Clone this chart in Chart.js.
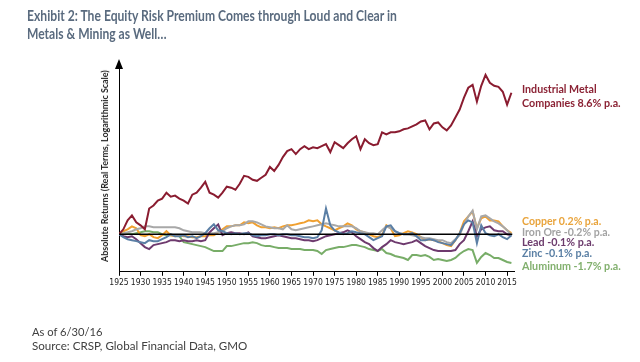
<!DOCTYPE html>
<html>
<head>
<meta charset="utf-8">
<script src="https://cdn.jsdelivr.net/npm/chart.js@4.4.1/dist/chart.umd.min.js"></script>
<style>
  body { margin: 0; background: #fff; width: 640px; height: 362px; overflow: hidden; position: relative;
         font-family: Lato, "Open Sans", sans-serif; }
  canvas { position: absolute; left: 0; top: 0; }
  .txt { position: absolute; white-space: nowrap; display: inline-block; }
  .title { left: 27px; color: #5a6b7f; font-weight: bold; font-size: 14.5px; line-height: 17px; transform-origin: left center; }
  .ylab { left: 105px; top: 166px; font-weight: bold; font-size: 8.5px; color: #222;
          transform-origin: center center; }
  .lbl { left: 522px; font-weight: bold; font-size: 11.5px; line-height: 12px; transform-origin: left center; }
  .note { left: 32px; font-size: 11px; line-height: 13px; color: #404040; transform-origin: left center; }
</style>
</head>
<body>
<canvas id="grafico" width="640" height="362"></canvas>

<div class="txt title" id="t1" style="top:7px">Exhibit 2: The Equity Risk Premium Comes through Loud and Clear in</div>
<div class="txt title" id="t2" style="top:25px">Metals &amp; Mining as Well…</div>
<div class="txt ylab" id="ylab">Absolute Returns (Real Terms, Logarithmic Scale)</div>

<div class="txt lbl" id="l1" style="top:89px;color:#8b2234">Industrial Metal</div>
<div class="txt lbl" id="l2" style="top:103px;color:#8b2234">Companies 8.6% p.a.</div>
<div class="txt lbl" style="top:221px;color:#e9a43c">Copper 0.2% p.a.</div>
<div class="txt lbl" style="top:232px;color:#a3a3a3">Iron Ore -0.2% p.a.</div>
<div class="txt lbl" style="top:242px;color:#6c3b6c">Lead -0.1% p.a.</div>
<div class="txt lbl" style="top:253px;color:#5a7fa4">Zinc -0.1% p.a.</div>
<div class="txt lbl" style="top:266px;color:#82b06e">Aluminum -1.7% p.a.</div>

<div class="txt note" style="top:331px">As of 6/30/16</div>
<div class="txt note" id="src" style="top:345px">Source: CRSP, Global Financial Data, GMO</div>

<script>
// anni (fine anno) e etichette asse x
let anni = [
  1925, 1926, 1927, 1928, 1929, 1930, 1931, 1932, 1933, 1934,
  1935, 1936, 1937, 1938, 1939, 1940, 1941, 1942, 1943, 1944,
  1945, 1946, 1947, 1948, 1949, 1950, 1951, 1952, 1953, 1954,
  1955, 1956, 1957, 1958, 1959, 1960, 1961, 1962, 1963, 1964,
  1965, 1966, 1967, 1968, 1969, 1970, 1971, 1972, 1973, 1974,
  1975, 1976, 1977, 1978, 1979, 1980, 1981, 1982, 1983, 1984,
  1985, 1986, 1987, 1988, 1989, 1990, 1991, 1992, 1993, 1994,
  1995, 1996, 1997, 1998, 1999, 2000, 2001, 2002, 2003, 2004,
  2005, 2006, 2007, 2008, 2009, 2010, 2011, 2012, 2013, 2014,
  2015, 2016
];
let tickAnni = [1925, 1930, 1935, 1940, 1945, 1950, 1955, 1960, 1965, 1970,
  1975, 1980, 1985, 1990, 1995, 2000, 2005, 2010, 2015];

// crescita reale di $1 (scala logaritmica)
let industriali = [
  1, 1.31, 2.14, 2.81, 1.92, 1.63, 1.31, 4.11, 4.84, 6.35,
  7.08, 9.80, 7.89, 8.33, 7.08, 6.35, 5.39, 8.79, 9.80, 12.9,
  17.8, 9.80, 8.79, 7.47, 9.80, 13.6, 12.9, 11.5, 16.0, 24.7,
  23.4, 19.9, 18.8, 22.2, 26.1, 40.3, 32.4, 44.9, 69.3, 96,
  107, 81.6, 107, 126, 107, 119, 113, 126, 141, 91,
  157, 133, 113, 148, 184, 217, 107, 184, 148, 133,
  141, 270, 242, 270, 270, 285, 318, 335, 374, 417,
  491, 518, 318, 440, 465, 354, 301, 395, 610, 942,
  1808, 3113, 3666, 1455, 3471, 6310, 4085, 3471, 3288, 2506,
  1236, 2373
];
let rame = [
  1, 1.18, 1.31, 1.54, 1.39, .947, .897, 1, .850, .805,
  .947, 1.18, .947, .897, .947, .897, .897, .850, .850, .897,
  .897, .947, .947, 1.11, 1.31, 1.54, 1.54, 1.63, 1.63, 1.92,
  1.82, 1.92, 1.63, 1.46, 1.46, 1.39, 1.46, 1.39, 1.54, 1.63,
  1.63, 1.72, 1.82, 1.92, 2.14, 2.03, 2.14, 1.72, 1.54, 1.39,
  1.24, 1.39, 1.54, 1.82, 1.63, 1.31, 1.18, 1.11, 1, .897,
  .850, .947, 1.63, 1.39, .897, .947, 1.06, 1.18, 1.11, 1,
  .850, .722, .762, .722, .684, .613, .550, .521, .722, 1.06,
  2.03, 2.66, 3.49, 1.39, 2.39, 2.66, 2.14, 2.14, 2.03, 1.54,
  1.24, 1.06
];
let ferro = [
  1, 1.06, 1.11, 1.18, 1.31, 1.39, 1.54, 1.54, 1.46, 1.46,
  1.46, 1.46, 1.46, 1.46, 1.39, 1.24, 1.18, 1.11, 1.11, 1.11,
  1.06, 1.06, 1.06, 1.11, 1.18, 1.39, 1.54, 1.63, 1.63, 1.72,
  2.03, 2.03, 1.92, 1.72, 1.54, 1.46, 1.39, 1.39, 1.31, 1.63,
  1.31, 1.24, 1.31, 1.39, 1.46, 1.54, 1.63, 1.72, 1.82, 1.72,
  1.63, 1.54, 1.54, 1.54, 1.54, 1.39, 1.18, 1.11, 1.06, 1.06,
  1, 1.24, 1.54, 1.39, 1.18, 1.06, 1, 1, .947, .897,
  .850, .805, .805, .762, .722, .722, .647, .613, .762, .947,
  1.72, 2.66, 3.68, 1.31, 2.66, 2.81, 2.39, 2.03, 1.82, 1.54,
  1.24, .947
];
let piombo = [
  1, .897, .850, .897, .762, .613, .493, .443, .550, .581,
  .613, .647, .722, .722, .684, .722, .684, .684, .722, .684,
  .722, 1.11, 1.39, 1.72, .947, 1.06, 1.11, 1.06, 1.06, 1,
  1.11, .897, .850, .805, .805, .850, .897, .947, .897, .850,
  .805, .805, .762, .722, .722, .684, .722, .805, .897, .947,
  1, 1.06, 1.11, 1.24, 1.11, .897, .762, .647, .581, .467,
  .397, .493, .581, .722, .647, .613, .581, .613, .647, .722,
  .613, .521, .467, .419, .397, .397, .397, .397, .419, .581,
  .722, 1.18, 2.03, .897, 1.31, 1.46, 1.54, 1.24, 1.18, 1.18,
  1, .947
];
let zinco = [
  1, .850, .762, .722, .684, .647, .613, .722, .684, .684,
  .762, .850, 1, .897, .897, .947, .850, .897, .805, .897,
  1.06, 1.39, 1.72, 1.24, 1.18, 1.06, 1, 1.06, 1, 1.06,
  1.06, .947, .897, .947, .947, 1, 1, .947, 1, 1,
  .947, .947, .897, .850, .850, .805, .850, 1.24, 4.11, 1.63,
  1.24, 1.11, 1, 1.06, 1.18, 1.11, 1.06, 1, .850, .722,
  .805, .897, 1.54, 1.63, 1.18, 1.06, 1, 1, 1.06, .897,
  .722, .722, .762, .722, .647, .613, .581, .550, .722, 1.06,
  1.72, 2.14, 1.92, .613, 1.63, 1.06, .947, .897, 1, .850,
  .762, .947
];
let alluminio = [
  1, 1, 1.06, 1, 1.06, 1.11, 1.18, 1.18, 1.11, 1.11,
  1, .947, .947, .947, .897, .647, .613, .581, .550, .521,
  .493, .443, .397, .397, .397, .521, .521, .550, .581, .613,
  .613, .647, .613, .550, .521, .521, .493, .467, .467, .467,
  .443, .443, .443, .419, .419, .419, .397, .337, .419, .443,
  .467, .493, .493, .521, .550, .550, .521, .493, .443, .419,
  .397, .443, .356, .337, .302, .287, .271, .243, .319, .319,
  .302, .319, .287, .243, .257, .243, .230, .243, .271, .337,
  .397, .443, .419, .207, .287, .356, .319, .271, .271, .243,
  .218, .207
];

function punti(serie) {
  return anni.map((a, i) => ({ x: a, y: serie[i] }));
}

function linea(nome, serie, colore, ordine) {
  return { label: nome, data: punti(serie), borderColor: colore, borderWidth: 2,
           pointRadius: 0, tension: 0, order: ordine };
}

let dati = {
  datasets: [
    { label: 'base', data: [{ x: 1925, y: 1 }, { x: 2016.2, y: 1 }], borderColor: '#000',
      borderWidth: 1.5, pointRadius: 0, order: 0 },
    linea('Industrial Metal Companies', industriali, '#8a1c30', 1),
    linea('Zinc', zinco, '#5b7fa5', 2),
    linea('Lead', piombo, '#6e3a6e', 3),
    linea('Iron Ore', ferro, '#a8a8a8', 4),
    linea('Copper', rame, '#f0a030', 5),
    linea('Aluminum', alluminio, '#78ad68', 6)
  ]
};

// freccia in cima all'asse y
let freccia = {
  id: 'freccia',
  afterDraw(chart) {
    let c = chart.ctx, a = chart.chartArea;
    c.save();
    c.fillStyle = '#000';
    c.beginPath();
    c.moveTo(a.left, a.top - 7);
    c.lineTo(a.left - 4, a.top + 3);
    c.lineTo(a.left + 4, a.top + 3);
    c.closePath();
    c.fill();
    c.restore();
  }
};

let config = {
  type: 'line',
  data: dati,
  plugins: [freccia],
  options: {
    responsive: false,
    animation: false,
    devicePixelRatio: 1,
    layout: { padding: { left: 111, right: 126, top: 66, bottom: 72 } },
    plugins: { legend: { display: false }, tooltip: { enabled: false } },
    scales: {
      x: {
        type: 'linear', min: 1925, max: 2016.6,
        border: { display: true, color: '#000', width: 1 },
        grid: { display: true, drawOnChartArea: false, drawTicks: true, tickLength: 4, color: '#000' },
        afterBuildTicks: s => { s.ticks = tickAnni.map(v => ({ value: v })); },
        ticks: { autoSkip: false, maxRotation: 0, padding: 2, color: '#222',
                 font: { size: 8.5, family: '"DejaVu Sans Condensed", Roboto, sans-serif' },
                 callback: v => String(v) }
      },
      y: {
        type: 'logarithmic', min: 0.127, max: 10300,
        border: { display: true, color: '#000', width: 1 },
        grid: { display: false },
        ticks: { display: false }
      }
    }
  }
};

let ctx = document.getElementById('grafico').getContext('2d');
new Chart(ctx, config);

// stringe i testi in orizzontale fino alla larghezza del riferimento
function adatta(el, w, prima) {
  el.style.transform = (prima || '') + ' scaleX(' + (w / el.offsetWidth) + ')';
}
adatta(document.getElementById('t1'), 370);
adatta(document.getElementById('t2'), 140);
adatta(document.getElementById('ylab'), 192, 'translate(-50%, -50%) rotate(-90deg)');
let larghezze = [75, 99, 79, 88, 72, 70, 99];
document.querySelectorAll('.lbl').forEach((e, i) => adatta(e, larghezze[i], 'translateY(-50%)'));
adatta(document.querySelectorAll('.note')[0], 70, 'translateY(-50%)');
adatta(document.getElementById('src'), 215, 'translateY(-50%)');
</script>
</body>
</html>
